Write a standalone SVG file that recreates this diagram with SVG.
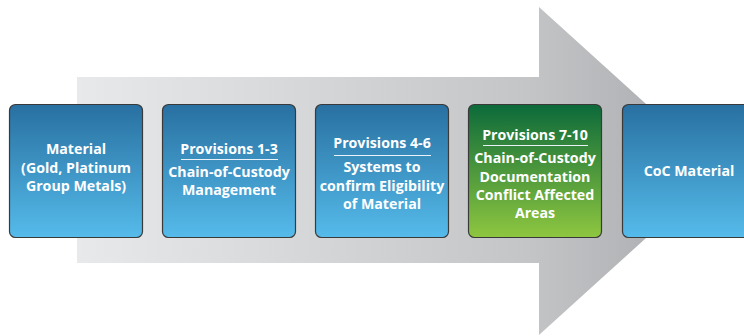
<svg xmlns="http://www.w3.org/2000/svg" width="744" height="336" viewBox="0 0 744 336">
<defs>
<linearGradient id="arrowG" x1="77" y1="0" x2="720" y2="0" gradientUnits="userSpaceOnUse">
<stop offset="0" stop-color="#e8e9ea"/>
<stop offset="0.7" stop-color="#c4c5c7"/>
<stop offset="1" stop-color="#a5a7aa"/>
</linearGradient>
<linearGradient id="blueG" x1="0" y1="0" x2="0" y2="1">
<stop offset="0" stop-color="#2870a1"/>
<stop offset="1" stop-color="#55bbea"/>
</linearGradient>
<linearGradient id="greenG" x1="0" y1="0" x2="0" y2="1">
<stop offset="0" stop-color="#0c6a3a"/>
<stop offset="1" stop-color="#8ec63f"/>
</linearGradient>
<style>
.box{stroke:#3a3a3a;stroke-width:1.2}
.t{fill:#fff;font-family:"Open Sans","Liberation Sans",sans-serif;font-weight:bold;font-size:14.2px;text-anchor:middle}
.ul{stroke:#e8f2f8;stroke-width:1.2}
</style>
</defs>
<g id="arrow">
<path d="M77,77 H539 V7 L720,171 L539,335 V263 H77 Z" fill="url(#arrowG)"/>
</g>
<g id="node1">
<rect class="box" x="9.5" y="104.5" width="133" height="133" rx="6" fill="url(#blueG)"/>
<text class="t" x="76" y="154">Material</text>
<text class="t" x="76" y="172.5">(Gold, Platinum</text>
<text class="t" x="76" y="191">Group Metals)</text>
</g>
<g id="node2">
<rect class="box" x="162.5" y="104.5" width="133" height="133" rx="6" fill="url(#blueG)"/>
<text class="t" x="229" y="154">Provisions 1-3</text>
<line class="ul" x1="181" y1="159.5" x2="278" y2="159.5"/>
<text class="t" x="229" y="177">Chain-of-Custody</text>
<text class="t" x="229" y="195">Management</text>
</g>
<g id="node3">
<rect class="box" x="315.5" y="104.5" width="133" height="133" rx="6" fill="url(#blueG)"/>
<text class="t" x="382" y="148">Provisions 4-6</text>
<line class="ul" x1="334" y1="155.5" x2="431" y2="155.5"/>
<text class="t" x="382" y="171.5">Systems to</text>
<text class="t" x="382" y="190.5">confirm Eligibility</text>
<text class="t" x="382" y="209">of Material</text>
</g>
<g id="node4">
<rect class="box" x="468.5" y="104.5" width="133" height="133" rx="6" fill="url(#greenG)"/>
<text class="t" x="535" y="140">Provisions 7-10</text>
<line class="ul" x1="483" y1="145.5" x2="588" y2="145.5"/>
<text class="t" x="535" y="163">Chain-of-Custody</text>
<text class="t" x="535" y="181.5">Documentation</text>
<text class="t" x="535" y="200">Conflict Affected</text>
<text class="t" x="535" y="218">Areas</text>
</g>
<g id="node5">
<rect class="box" x="622.5" y="104.5" width="133" height="133" rx="6" fill="url(#blueG)"/>
<text class="t" x="689" y="176">CoC Material</text>
</g>
<g id="connectors"></g>
</svg>
